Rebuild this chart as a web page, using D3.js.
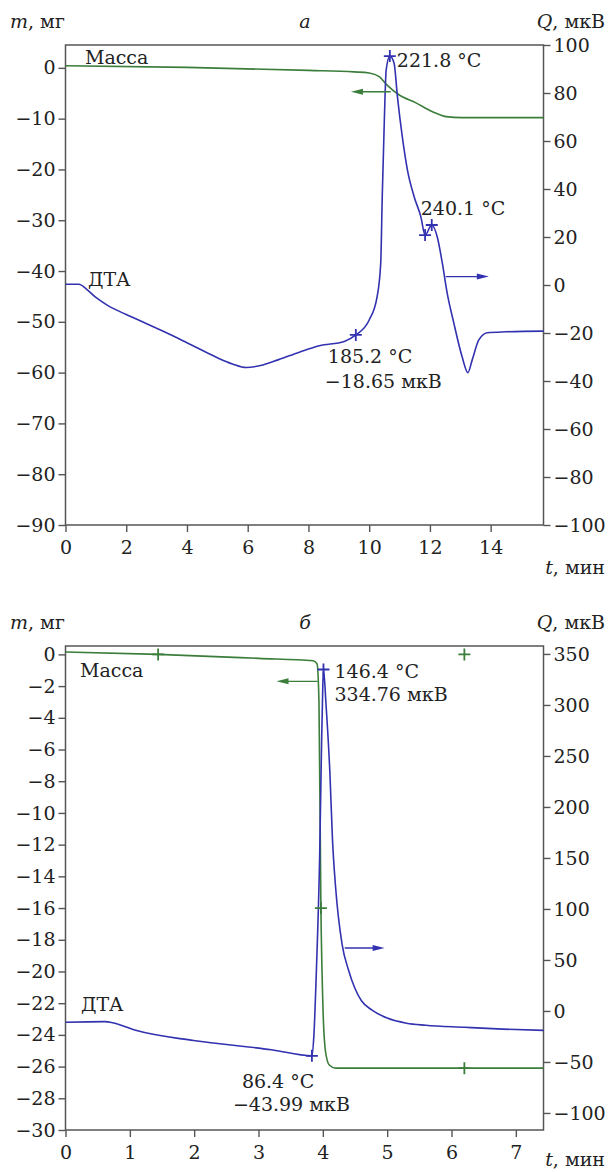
<!DOCTYPE html>
<html>
<head>
<meta charset="utf-8">
<script src="https://cdn.jsdelivr.net/npm/d3@7/dist/d3.min.js"></script>
<style>
  body { margin: 0; background: #fff; }
  svg text { font-family: 'DejaVu Serif', 'DejaVu Sans', sans-serif; fill: #222; }
</style>
</head>
<body>
<svg id="chart" width="608" height="1172"></svg>
<script>
// ---- panel a data ----
const timeTicksA = [0, 2, 4, 6, 8, 10, 12, 14];
const massTicksA = [0, -10, -20, -30, -40, -50, -60, -70, -80, -90];
const dtaTicksA = [100, 80, 60, 40, 20, 0, -20, -40, -60, -80, -100];

// [t, m] mass, mg
const massA = [[0, 0.4], [4, 0.1], [8, -0.5], [9.5, -0.8], [10.0, -1.0], [10.33, -1.74],
  [10.59, -3.4], [10.98, -5.3], [11.54, -6.9], [12.07, -8.6], [12.53, -9.6], [13.05, -9.8], [15.74, -9.8]];

// [t, Q] DTA signal, uV
const dtaA = [[0, 0.3], [0.44, 0.3], [0.7, -1.8], [1.0, -5.2], [1.4, -8.6], [2.0, -12.3],
  [2.6, -15.7], [3.2, -19.2], [3.8, -22.8], [4.4, -26.6], [5.0, -30.3], [5.5, -32.9], [5.95, -34.4],
  [6.5, -33.3], [7.0, -31.2], [7.7, -28.0], [8.36, -25.3], [9.18, -23.5], [9.56, -20.8], [10.0, -14.6],
  [10.26, -4.9], [10.38, 9.2], [10.43, 36.8], [10.49, 64.6], [10.56, 89.6], [10.68, 95.4], [10.82, 92.4],
  [10.93, 78.5], [11.09, 61.8], [11.26, 47.9], [11.48, 36.8], [11.7, 28.5], [11.84, 20.8], [12.06, 25],
  [12.24, 20.1], [12.41, 9.0], [12.57, -3.5], [12.79, -16], [13.06, -29.9], [13.25, -36.5], [13.39, -31.3],
  [13.61, -22.9], [13.89, -19.9], [14.49, -19.5], [15.74, -19.2]];

const dtaMarksA = [[9.56, -20.8], [10.68, 95.4], [11.84, 20.8], [12.06, 25]];
const massMarksA = [];

// ---- panel b data ----
const timeTicksB = [0, 1, 2, 3, 4, 5, 6, 7];
const massTicksB = [0, -2, -4, -6, -8, -10, -12, -14, -16, -18, -20, -22, -24, -26, -28, -30];
const dtaTicksB = [350, 300, 250, 200, 150, 100, 50, 0, -50, -100];

const massB = [[0, 0.15], [1.44, 0.0], [3.0, -0.25], [3.85, -0.4], [3.91, -0.6], [3.94, -3],
  [3.97, -16], [4.0, -22], [4.04, -25], [4.1, -25.9], [4.2, -26.1], [7.43, -26.1]];

const dtaB = [[0, -11], [0.61, -10.5], [0.73, -11.5], [1.09, -19], [1.99, -29], [3.2, -38],
  [3.83, -43.99], [3.86, -25], [3.9, 40], [3.95, 150], [3.98, 260], [4.0, 320], [4.01, 334.76],
  [4.05, 300], [4.11, 233], [4.15, 168], [4.2, 120], [4.3, 65], [4.4, 40], [4.5, 22], [4.6, 10],
  [4.76, 1], [5.0, -7], [5.3, -12], [5.6, -14], [6.2, -16], [6.8, -17.8], [7.43, -19]];

const dtaMarksB = [[3.83, -43.99], [4.01, 334.76]];
const massMarksB = [[1.44, 0.0], [6.2, 0.0], [3.97, -16], [6.2, -26.1]];

const green = "#3b7d3b", blue = "#3232b0", axisCol = "#555";
const fontFam = "'DejaVu Serif', 'DejaVu Sans', sans-serif";
const fs = 19;
const left = 65.5, right = 543.5;
const svg = d3.select("#chart");

const fmt = d => d < 0 ? "\u2212" + Math.abs(d) : String(d);

function drawPanel(p) {
  const g = svg.append("g");
  const x = d3.scaleLinear().domain(p.tDomain).range([left, right]);
  const yM = d3.scaleLinear().domain(p.mDomain).range([p.bottom, p.top]);
  const yQ = d3.scaleLinear().domain(p.qDomain).range([p.bottom, p.top]);

  const style = sel => {
    sel.attr("font-family", fontFam).attr("font-size", fs);
    sel.select(".domain").remove();
    sel.selectAll(".tick line").attr("stroke", axisCol).attr("stroke-width", 1.4);
    sel.selectAll(".tick text").attr("fill", "#222");
  };

  g.append("g").attr("transform", `translate(${left},0)`)
    .call(d3.axisLeft(yM).tickValues(p.mTicks).tickSize(7).tickPadding(3).tickFormat(fmt))
    .call(style);
  g.append("g").attr("transform", `translate(${right},0)`)
    .call(d3.axisRight(yQ).tickValues(p.qTicks).tickSize(7).tickPadding(3).tickFormat(fmt))
    .call(style);
  g.append("g").attr("transform", `translate(0,${p.bottom})`)
    .call(d3.axisBottom(x).tickValues(p.tTicks).tickSize(7).tickPadding(9).tickFormat(fmt))
    .call(style);

  g.append("rect").attr("x", left).attr("y", p.top)
    .attr("width", right - left).attr("height", p.bottom - p.top)
    .attr("fill", "none").attr("stroke", axisCol).attr("stroke-width", 1.5);

  const lineM = d3.line().x(d => x(d[0])).y(d => yM(d[1])).curve(d3.curveMonotoneX);
  const lineQ = d3.line().x(d => x(d[0])).y(d => yQ(d[1])).curve(d3.curveMonotoneX);

  g.append("path").attr("d", lineM(p.mass)).attr("fill", "none")
    .attr("stroke", green).attr("stroke-width", 1.6);
  g.append("path").attr("d", lineQ(p.dta)).attr("fill", "none")
    .attr("stroke", blue).attr("stroke-width", 1.6);

  const plus = "M-6,0H6M0,-6V6";
  g.selectAll(".mm").data(p.massMarks).join("path")
    .attr("d", plus).attr("transform", d => `translate(${x(d[0])},${yM(d[1])})`)
    .attr("stroke", green).attr("stroke-width", 1.8);
  g.selectAll(".qm").data(p.dtaMarks).join("path")
    .attr("d", plus).attr("transform", d => `translate(${x(d[0])},${yQ(d[1])})`)
    .attr("stroke", blue).attr("stroke-width", 1.8);

  // arrows
  const arrow = (x0, x1, y, col) => {
    const dir = Math.sign(x1 - x0);
    g.append("line").attr("x1", x0).attr("x2", x1 - dir * 8).attr("y1", y).attr("y2", y)
      .attr("stroke", col).attr("stroke-width", 1.4);
    g.append("path").attr("d", `M${x1},${y}L${x1 - dir * 12},${y - 3}L${x1 - dir * 12},${y + 3}Z`)
      .attr("fill", col);
  };
  arrow(x(p.massArrow[0]), x(p.massArrow[1]), yM(p.massArrow[2]), green);
  arrow(x(p.dtaArrow[0]), x(p.dtaArrow[1]), yQ(p.dtaArrow[2]), blue);

  // texts
  const txt = (tx, ty, s, anchor) => g.append("text").attr("x", tx).attr("y", ty)
    .attr("font-family", fontFam).attr("font-size", fs)
    .attr("text-anchor", anchor || "start").text(s);
  const rich = (tx, ty, it, rest, anchor) => {
    const t = txt(tx, ty, "", anchor);
    t.append("tspan").attr("font-style", "italic").text(it);
    t.append("tspan").text(rest);
  };
  rich(10, p.top - 17, "m", ", мг");
  txt(305, p.top - 17, p.title).attr("font-style", "italic").attr("text-anchor", "middle");
  rich(605, p.top - 17, "Q", ", мкВ", "end");
  rich(605, p.bottom + p.tLabelDy, "t", ", мин", "end");

  txt(x(p.massLabel[0]), yM(p.massLabel[1]), "Масса");
  txt(x(p.dtaLabel[0]), yQ(p.dtaLabel[1]), "ДТА");

  p.notes.forEach(n => {
    const mx = x(n.at[0]), my = yQ(n.at[1]);
    n.lines.forEach((s, i) => txt(mx + n.dx[i], my + n.dy[i], s));
  });
}

drawPanel({
  top: 45, bottom: 525, tLabelDy: 49,
  tDomain: [0, 15.74], mDomain: [-90, 4.5], qDomain: [-100, 100],
  tTicks: timeTicksA, mTicks: massTicksA, qTicks: dtaTicksA,
  mass: massA, dta: dtaA, massMarks: massMarksA, dtaMarks: dtaMarksA,
  title: "а",
  massArrow: [10.71, 9.40, -4.7], dtaArrow: [12.52, 13.94, 3.5],
  massLabel: [0.64, 0.76], dtaLabel: [0.74, -0.4],
  notes: [
    { at: [10.68, 95.4], lines: ["221.8 °C"], dx: [7], dy: [11] },
    { at: [12.06, 25], lines: ["240.1 °C"], dx: [-11], dy: [-10] },
    { at: [9.56, -20.8], lines: ["185.2 °C", "\u221218.65 мкВ"], dx: [-28, -31], dy: [28, 53] }
  ]
});

drawPanel({
  top: 646, bottom: 1130, tLabelDy: 36,
  tDomain: [0, 7.43], mDomain: [-30, 0.53], qDomain: [-116.7, 357.8],
  tTicks: timeTicksB, mTicks: massTicksB, qTicks: dtaTicksB,
  mass: massB, dta: dtaB, massMarks: massMarksB, dtaMarks: dtaMarksB,
  title: "б",
  massArrow: [3.92, 3.28, -1.7], dtaArrow: [4.34, 4.96, 61.7],
  massLabel: [0.225, -1.43], dtaLabel: [0.24, 0],
  notes: [
    { at: [4.01, 334.76], lines: ["146.4 °C", "334.76 мкВ"], dx: [11, 11], dy: [8, 31] },
    { at: [3.83, -43.99], lines: ["86.4 °C", "\u221243.99 мкВ"], dx: [-70, -79], dy: [32, 55] }
  ]
});
</script>
</body>
</html>
